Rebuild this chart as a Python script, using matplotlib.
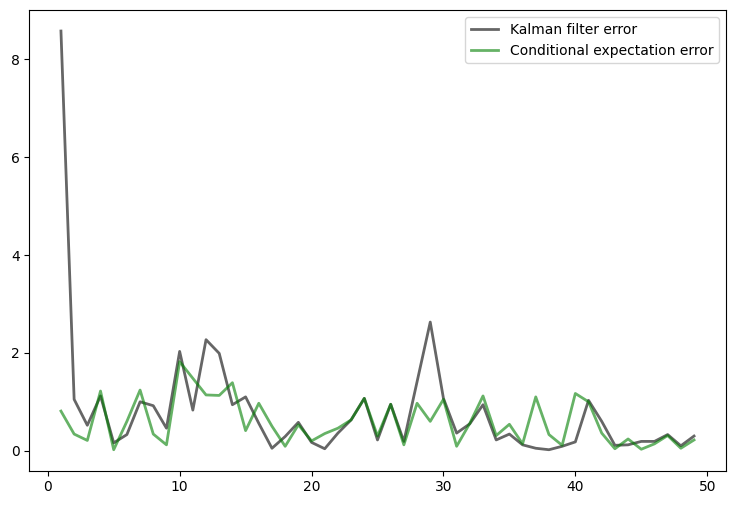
import matplotlib
matplotlib.use("Agg")
import matplotlib.pyplot as plt

steps = list(range(1, 50))
kalman_error = [8.58, 1.05, 0.52, 1.12, 0.16, 0.33, 1.0, 0.92, 0.46, 2.03,
                0.83, 2.27, 1.99, 0.94, 1.1, 0.56, 0.05, 0.29, 0.58, 0.17,
                0.04, 0.36, 0.63, 1.07, 0.22, 0.95, 0.19, 1.41, 2.63, 1.07,
                0.36, 0.55, 0.94, 0.22, 0.34, 0.12, 0.05, 0.02, 0.09, 0.18,
                1.03, 0.6, 0.11, 0.12, 0.19, 0.19, 0.33, 0.1, 0.3]
cond_exp_error = [0.81, 0.34, 0.21, 1.22, 0.02, 0.6, 1.24, 0.34, 0.12, 1.82,
                  1.48, 1.14, 1.13, 1.39, 0.41, 0.97, 0.5, 0.09, 0.53, 0.2,
                  0.35, 0.46, 0.63, 1.07, 0.3, 0.95, 0.12, 0.97, 0.6, 1.05,
                  0.09, 0.56, 1.12, 0.31, 0.54, 0.14, 1.1, 0.33, 0.11, 1.17,
                  1.0, 0.36, 0.04, 0.24, 0.03, 0.14, 0.31, 0.05, 0.22]

fig = plt.figure(figsize=(7.36, 5.05), dpi=100)
ax = fig.add_axes([0.0398, 0.068, 0.9462, 0.912])
ax.plot(steps, kalman_error, color='k', lw=2, alpha=0.6, label='Kalman filter error')
ax.plot(steps, cond_exp_error, color='g', lw=2, alpha=0.6, label='Conditional expectation error')
ax.legend(loc='upper right')
fig.savefig('out.png', dpi=100)
